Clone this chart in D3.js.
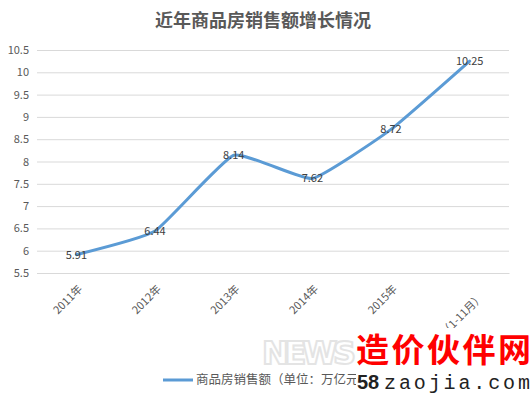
<!DOCTYPE html>
<html><head><meta charset="utf-8">
<script src="https://cdn.jsdelivr.net/npm/d3@7"></script>
<style>body{margin:0;background:#fff;} svg{display:block;}</style>
</head><body>
<script>
const categories = ["2011年","2012年","2013年","2014年","2015年","（1-11月）"];
const values = [5.91, 6.44, 8.14, 7.62, 8.72, 10.25];
const yTicks = [5.5,6,6.5,7,7.5,8,8.5,9,9.5,10,10.5];
const title = "近年商品房销售额增长情况";
const seriesName = "商品房销售额（单位：万亿元）";

const W = 531, H = 395;
const m = {left:37, right:22, top:50, bottom:122};
const svg = d3.select("body").append("svg").attr("width",W).attr("height",H);
const font = "'Noto Sans CJK SC','Noto Sans',sans-serif";
const x = d3.scaleBand().domain(categories).range([m.left, W-m.right]);
const y = d3.scaleLinear().domain([5.5,10.5]).range([H-m.bottom, m.top]);

svg.append("text").attr("x",263).attr("y",27).attr("text-anchor","middle")
  .attr("font-family",font).attr("font-size",18).attr("font-weight","bold").attr("fill","#595959").text(title);

const yAxis = d3.axisLeft(y).tickValues(yTicks).tickSize(-(W-m.left-m.right)).tickPadding(8).tickFormat(d=>String(d));
const gy = svg.append("g").attr("transform",`translate(${m.left},0)`).call(yAxis);
gy.select(".domain").remove();
gy.selectAll(".tick line").attr("stroke","#d9d9d9").attr("stroke-width",1);
gy.selectAll(".tick text").attr("font-family",font).attr("font-size",11).attr("fill","#595959");

const xAxis = d3.axisBottom(x).tickSize(0).tickPadding(0);
const gx = svg.append("g").attr("transform",`translate(0,${H-m.bottom})`).call(xAxis);
gx.select(".domain").attr("stroke","#d9d9d9");
gx.selectAll(".tick text").attr("font-family",font).attr("font-size",11).attr("fill","#595959")
  .attr("text-anchor","end").attr("dy","0.35em")
  .attr("transform",(d,i)=> i===categories.length-1 ? "translate(12,22) rotate(-45)" : "translate(4,14) rotate(-45)");

const line = d3.line().x((d,i)=>x(categories[i])+x.bandwidth()/2).y(d=>y(d)).curve(d3.curveCardinal.tension(0.6));
svg.append("path").datum(values).attr("d",line).attr("fill","none").attr("stroke","#5b9bd5").attr("stroke-width",3).attr("stroke-linecap","round");

svg.selectAll(".lbl").data(values).enter().append("text")
  .attr("x",(d,i)=>x(categories[i])+x.bandwidth()/2).attr("y",d=>y(d)).attr("dy","0.35em")
  .attr("text-anchor","middle").attr("font-family",font).attr("font-size",11).attr("fill","#404040")
  .text(d=>d.toFixed(2));

// legend
const lg = svg.append("g");
lg.append("line").attr("x1",163).attr("x2",193).attr("y1",380).attr("y2",380).attr("stroke","#5b9bd5").attr("stroke-width",3);
lg.append("text").attr("x",196).attr("y",380).attr("dy","0.35em").attr("font-family",font).attr("font-size",12.5).attr("fill","#595959").text(seriesName);

// watermark overlay
const wm = svg.append("g");
wm.append("text").attr("x",262).attr("y",364).attr("font-family","'DejaVu Sans',sans-serif").attr("font-weight","bold").attr("font-size",32)
  .attr("fill","none").attr("stroke","#e4e4e4").attr("stroke-width",2).attr("textLength",94).text("NEWS");
wm.append("rect").attr("x",356).attr("y",328).attr("width",175).attr("height",67).attr("fill","#fff");
wm.append("text").attr("x",356).attr("y",362).attr("font-family","'Noto Sans CJK SC',sans-serif").attr("font-weight","bold").attr("font-size",33)
  .attr("fill","#ff0000").attr("textLength",175).text("造价伙伴网");
wm.append("text").attr("x",357).attr("y",389).attr("font-family","'Liberation Sans',sans-serif").attr("font-weight","bold").attr("font-size",20)
  .attr("fill","#222").text("58");
wm.append("text").attr("x",384).attr("y",389).attr("font-family","'Liberation Mono',monospace").attr("font-size",20)
  .attr("fill","#222").attr("textLength",146).text("zaojia.com");
</script>
</body></html>
